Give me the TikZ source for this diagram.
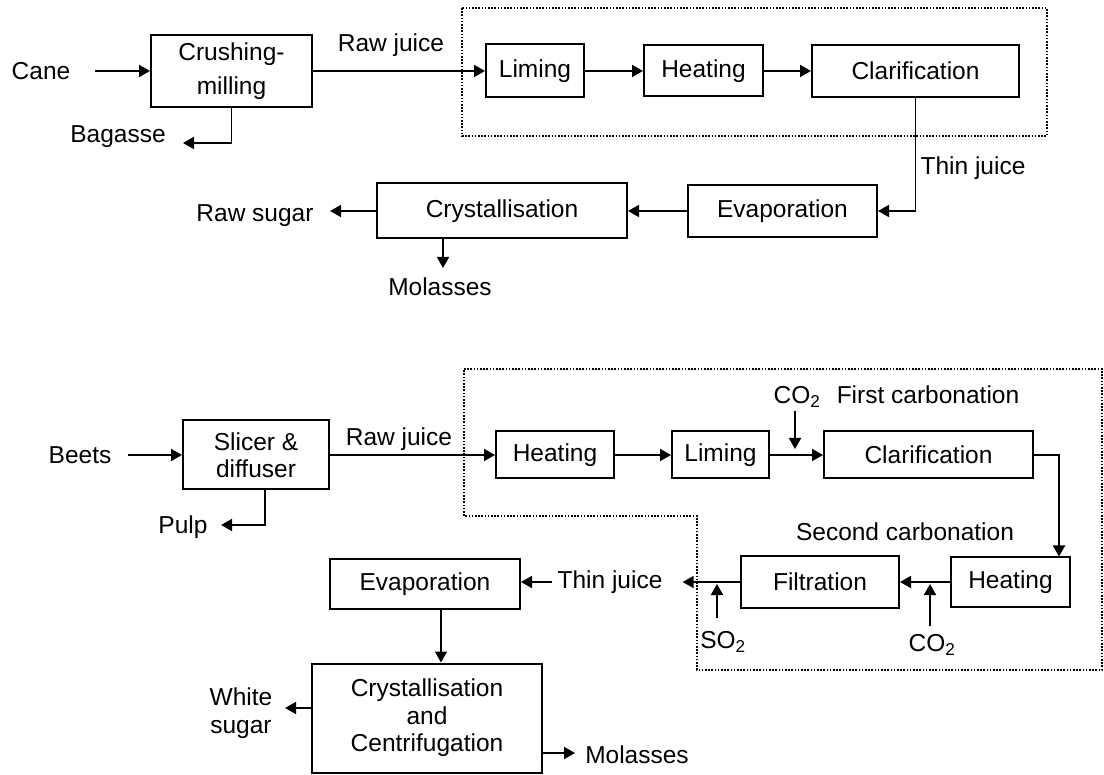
\documentclass[tikz,border=0pt]{standalone}
\usepackage{fontspec}
\setmainfont{Liberation Sans}
\usetikzlibrary{arrows.meta,positioning}

\begin{document}
\begin{tikzpicture}[x=1pt, y=-1pt,
    every node/.style={font=\fontsize{24.5}{27.5}\selectfont},
    proc/.style={
      draw=black, line width=2pt,
      align=center, inner sep=2pt
    },
    txt/.style={align=center, inner sep=0pt},
    arrow/.style={-{Triangle[length=11pt,width=12pt]}, line width=1.8pt},
    region/.style={draw=black, line width=1.6pt, dash pattern=on 1.6pt off 1.6pt}
  ]

    \useasboundingbox (0,0) rectangle (1104,775);

    % cane
    \node[txt] (cane) at (41,71) {Cane};
    \node[proc, minimum width=161pt, minimum height=72pt] (crush) at (231.5,71) {Crushing-\\[6pt]milling};
    \node[txt] (bagasse) at (118,137) {Bagasse};
    \coordinate (bagout) at (183,143);
    \node[txt] (rawjuice1) at (391,45) {Raw juice};

    \node[proc, minimum width=98pt, minimum height=53pt] (liming1) at (535,71) {Liming};
    \node[proc, minimum width=119pt, minimum height=51pt, right=58pt of liming1] (heating1) {Heating};
    \node[proc, minimum width=207pt, minimum height=52pt, right=47pt of heating1] (clar1) {Clarification};
    \draw[region] (462,8) rectangle (1047,136);

    \node[txt] (thin1) at (973,168) {Thin juice};
    \node[proc, minimum width=189pt, minimum height=52pt] (evap1) at (782.5,211) {Evaporation};
    \node[proc, minimum width=250pt, minimum height=55pt] (cryst1) at (502,211) {Crystallisation};
    \node[txt] (rawsugar) at (255,216) {Raw sugar};
    \coordinate (sugout) at (330,211);
    \node[txt] (molasses1) at (440,287) {Molasses};
    \coordinate (molout1) at (443,268);

    \draw[arrow, shorten <=25pt] (cane) -- (crush);
    \draw[arrow] (crush.south) |- (bagout);
    \draw[arrow] (crush) -- (liming1);
    \draw[arrow] (liming1) -- (heating1);
    \draw[arrow] (heating1) -- (clar1);
    \draw[arrow] (clar1.south) |- (evap1.east);
    \draw[arrow] (evap1) -- (cryst1);
    \draw[arrow] (cryst1.west) -- (sugout);
    \draw[arrow] (cryst1.south -| molout1) -- (molout1);

    % beet
    \node[txt] (beets) at (80,455) {Beets};
    \node[proc, minimum width=146pt, minimum height=69pt] (slicer) at (256,455) {Slicer \&\\diffuser};
    \node[txt] (pulp) at (183,527) {Pulp};
    \coordinate (pulpout) at (221,525);
    \node[txt] (rawjuice2) at (399,439) {Raw juice};

    \node[proc, minimum width=118pt, minimum height=47pt] (heat2) at (555,455) {Heating};
    \node[proc, minimum width=97pt, minimum height=47pt, right=56pt of heat2] (lim2) {Liming};
    \node[proc, minimum width=209pt, minimum height=47pt, right=53pt of lim2] (clar2) {Clarification};
    \node[txt] (co2a) at (797,397) {CO\textsubscript{2}};
    \coordinate (co2ain) at (795,449);
    \node[txt] (first) at (928,395) {First carbonation};
    \coordinate (clarturn) at (1059,455);

    \node[txt] (second) at (905,532) {Second carbonation};
    \node[proc, minimum width=119pt, minimum height=49pt] (heat3) at (1010.5,582) {Heating};
    \node[proc, minimum width=158pt, minimum height=51pt] (filt) at (820,582) {Filtration};
    \node[txt] (co2b) at (932,645) {CO\textsubscript{2}};
    \coordinate (co2bin) at (930,584);
    \node[txt] (so2) at (723,642) {SO\textsubscript{2}};
    \coordinate (so2in) at (717,584);
    \node[txt] (thin2) at (610,582) {Thin juice};
    \draw[region] (464,369) -- (1102,369) -- (1102,670) -- (697,670) -- (697,516) -- (464,516) -- cycle;

    \node[proc, minimum width=190pt, minimum height=50pt] (evap2) at (425,584) {Evaporation};
    \node[proc, minimum width=230pt, minimum height=109pt] (cc) at (427,718) {Crystallisation\\and\\Centrifugation};
    \node[txt] (white) at (241,713) {White\\sugar};
    \coordinate (whiteout) at (285,708);
    \node[txt] (molasses2) at (637,755) {Molasses};
    \coordinate (molout2) at (575,753);

    \draw[arrow, shorten <=16pt] (beets) -- (slicer);
    \draw[arrow] ([xshift=9pt]slicer.south) |- (pulpout);
    \draw[arrow] (slicer) -- (heat2);
    \draw[arrow] (heat2) -- (lim2);
    \draw[arrow] (lim2) -- (clar2);
    \draw[arrow, shorten <=3pt] (co2a.south -| co2ain) -- (co2ain);
    \draw[arrow] (clar2.east) -- (clarturn) -- (clarturn |- heat3.north);
    \draw[arrow] (heat3) -- (filt);
    \draw[arrow, shorten <=8pt] (co2b.north -| co2bin) -- (co2bin);
    \draw[arrow, shorten <=13pt] (so2.north -| so2in) -- (so2in);
    \draw[arrow, shorten >=20pt] (filt) -- (thin2);
    \draw[arrow, shorten <=5pt] (thin2) -- (evap2.east |- thin2);
    \draw[arrow] ([xshift=16pt]evap2.south) -- ([xshift=16pt]evap2.south |- cc.north);
    \draw[arrow] (cc.west |- whiteout) -- (whiteout);
    \draw[arrow] (cc.east |- molout2) -- (molout2);

\end{tikzpicture}
\end{document}
